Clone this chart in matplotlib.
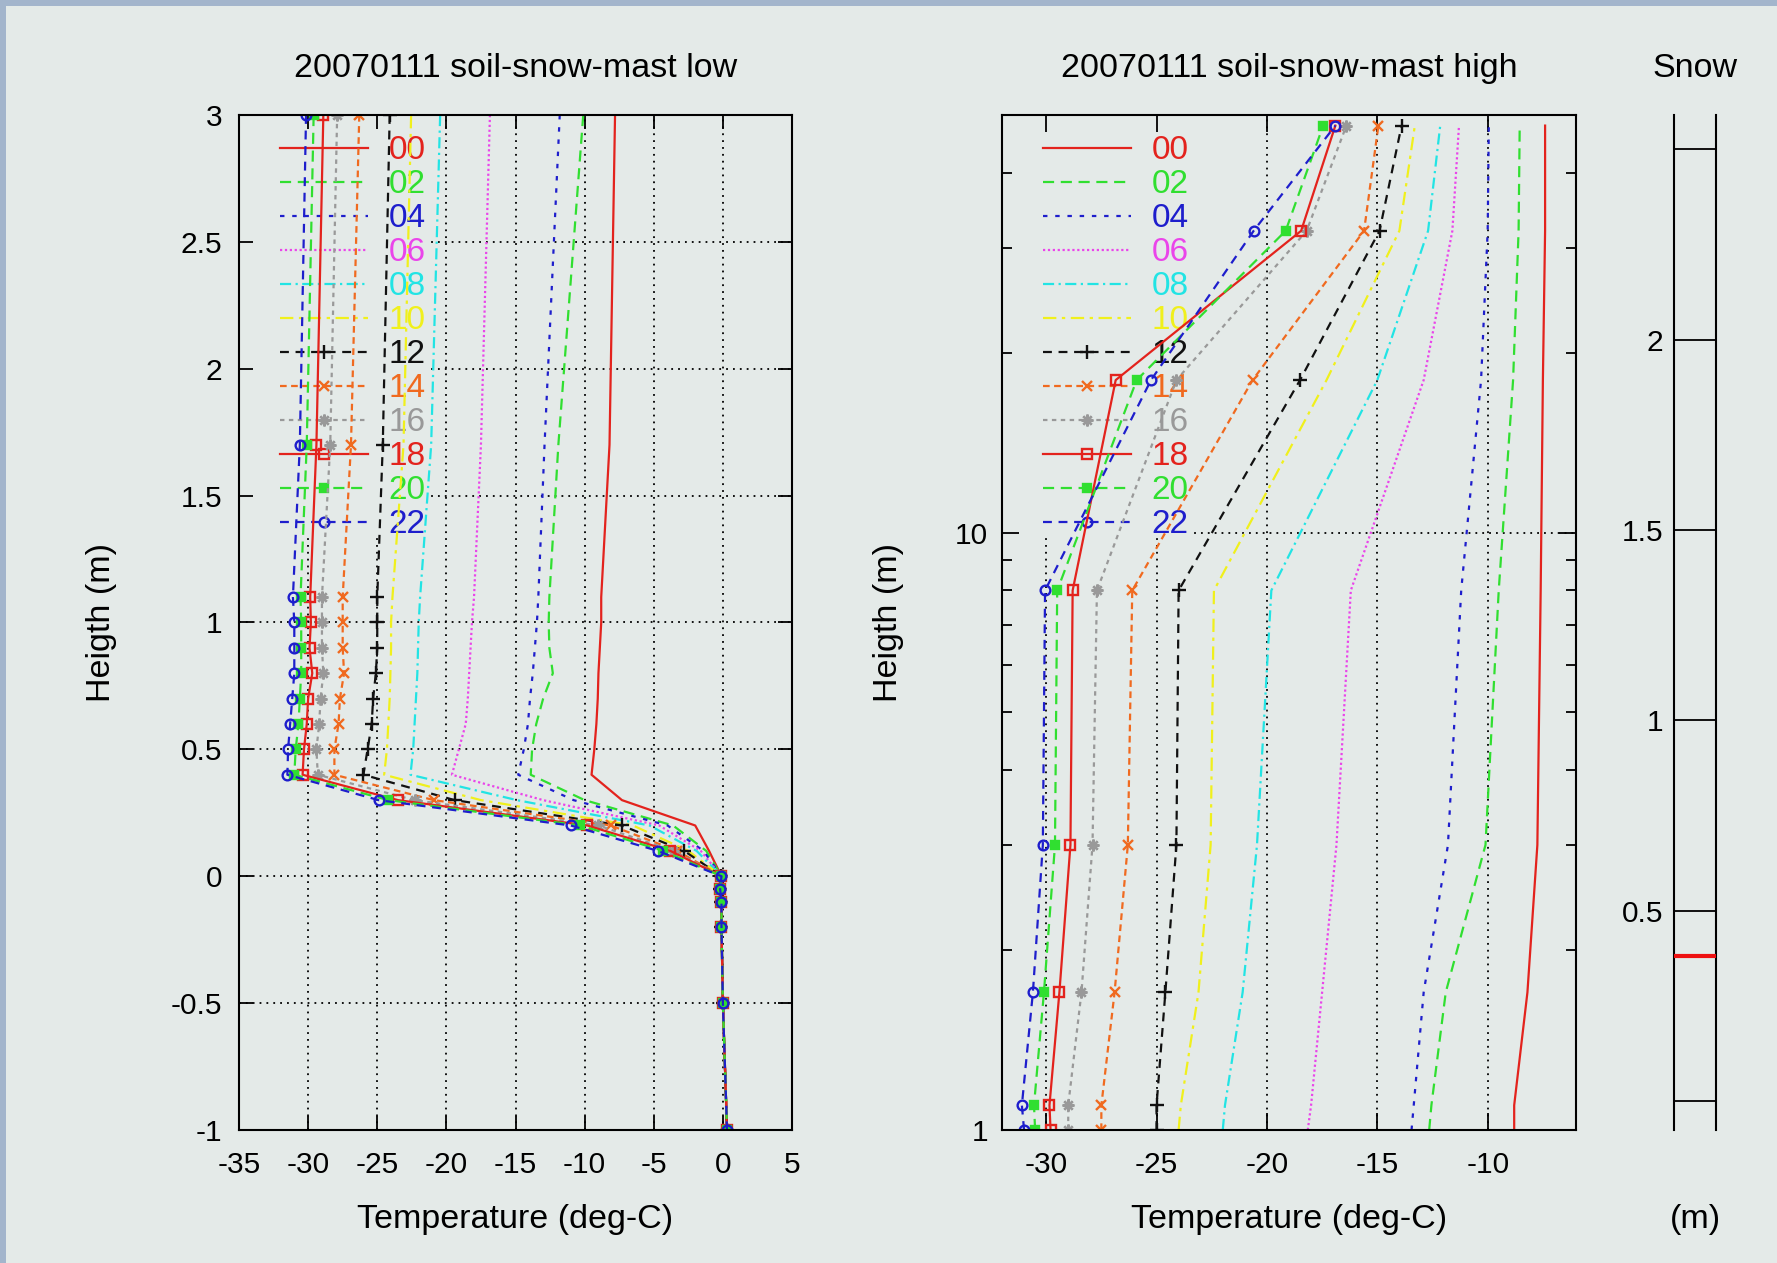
import matplotlib
matplotlib.use('Agg')
import matplotlib.pyplot as plt
from matplotlib.ticker import LogLocator, NullFormatter, FixedLocator
from matplotlib.patches import Rectangle

plt.rcParams['font.family'] = ['Liberation Sans', 'DejaVu Sans']
plt.rcParams['axes.unicode_minus'] = False

BG = '#e4eae8'
BORDER = '#a3b5cc'

hours = ['00', '02', '04', '06', '08', '10', '12', '14', '16', '18', '20', '22']

# ---- low mast + snow + soil profile (m) ----
h_air = [3.0, 1.7, 1.1, 1.0, 0.9, 0.8, 0.7, 0.6, 0.5, 0.4, 0.3, 0.2, 0.1]
h_soil = [0.0, -0.05, -0.1, -0.2, -0.5, -1.0]
t_soil = [-0.1, -0.2, -0.1, -0.1, 0.0, 0.3]

low_00 = [-7.8, -8.2, -8.8, -8.8, -8.9, -9.0, -9.05, -9.15, -9.3, -9.5, -7.3, -2.0, -1.0]
low_02 = [-10.1, -11.9, -12.55, -12.6, -12.55, -12.3, -13.0, -13.5, -13.8, -13.9, -10.0, -3.6, -1.2]
low_04 = [-11.8, -12.9, -13.35, -13.45, -13.6, -13.75, -13.95, -14.1, -14.4, -14.8, -10.8, -4.0, -1.4]
low_06 = [-16.85, -17.5, -18.0, -18.15, -18.25, -18.35, -18.45, -18.6, -19.1, -19.6, -13.0, -4.6, -1.6]
low_08 = [-20.45, -21.1, -21.9, -22.0, -22.05, -22.1, -22.2, -22.3, -22.4, -22.6, -14.9, -5.3, -1.9]
low_10 = [-22.55, -23.1, -23.9, -24.0, -24.0, -24.05, -24.1, -24.2, -24.3, -24.5, -17.5, -6.5, -2.5]
low_12 = [-24.1, -24.6, -25.0, -25.0, -25.0, -25.1, -25.3, -25.4, -25.7, -26.0, -19.4, -7.3, -2.8]
low_14 = [-26.3, -26.9, -27.5, -27.5, -27.5, -27.4, -27.7, -27.8, -28.1, -28.1, -20.9, -8.1, -3.3]
low_16 = [-27.9, -28.4, -29.0, -29.0, -29.0, -28.9, -29.1, -29.2, -29.4, -29.3, -22.3, -9.0, -3.6]
low_18 = [-28.9, -29.4, -29.85, -29.8, -29.9, -29.7, -30.0, -30.1, -30.3, -30.4, -23.5, -9.8, -3.8]
low_20 = [-29.6, -30.1, -30.55, -30.5, -30.5, -30.5, -30.6, -30.7, -30.9, -31.0, -24.2, -10.3, -4.3]
low_22 = [-30.15, -30.6, -31.1, -31.0, -31.0, -31.0, -31.15, -31.3, -31.45, -31.5, -24.9, -11.0, -4.7]

# ---- high mast profile (m, log scale) ----
h_high = [1.0, 1.1, 1.7, 3.0, 8.0, 18.0, 32.0, 48.0]
high_00 = [-8.8, -8.8, -8.2, -7.75, -7.6, -7.5, -7.4, -7.4]
high_02 = [-12.65, -12.55, -11.9, -10.1, -9.5, -8.85, -8.6, -8.55]
high_04 = [-13.45, -13.35, -12.9, -11.8, -11.2, -10.3, -10.0, -9.95]
high_06 = [-18.15, -18.0, -17.5, -16.85, -16.2, -12.9, -11.6, -11.3]
high_08 = [-22.0, -21.9, -21.1, -20.45, -19.8, -15.0, -12.7, -12.15]
high_10 = [-24.0, -23.9, -23.1, -22.55, -22.4, -17.3, -14.0, -13.3]
high_12 = [-25.0, -25.0, -24.6, -24.1, -24.0, -18.5, -14.9, -13.9]
high_14 = [-27.5, -27.5, -26.9, -26.3, -26.1, -20.65, -15.6, -14.95]
high_16 = [-29.0, -29.0, -28.4, -27.9, -27.7, -24.1, -18.2, -16.4]
high_18 = [-29.8, -29.85, -29.4, -28.9, -28.8, -26.85, -18.45, -16.9]
high_20 = [-30.5, -30.55, -30.1, -29.6, -29.5, -25.9, -19.15, -17.45]
high_22 = [-31.0, -31.1, -30.6, -30.15, -30.05, -25.25, -20.6, -16.9]

snow_depth = 0.38

low_series = [low_00, low_02, low_04, low_06, low_08, low_10,
              low_12, low_14, low_16, low_18, low_20, low_22]
high_series = [high_00, high_02, high_04, high_06, high_08, high_10,
               high_12, high_14, high_16, high_18, high_20, high_22]

xt_low = [-35, -30, -25, -20, -15, -10, -5, 0, 5]
yt_low = [-1, -0.5, 0, 0.5, 1, 1.5, 2, 2.5, 3]
xt_high = [-30, -25, -20, -15, -10]
yt_high = [1, 10]
snow_ticks = [0, 0.5, 1.0, 1.5, 2.0, 2.5]
snow_labels = ['', '0.5', '1', '1.5', '2', '']

# ---- styles ----
RED, GREEN, BLUE = '#e3231d', '#30df30', '#1e1ecc'
colors = [RED, GREEN, BLUE, '#ea45ea', '#22e4e4', '#f0f01c',
          '#111111', '#f06a1f', '#999999', RED, GREEN, BLUE]
styles = ['-', (0, (5, 3)), (0, (2, 3.5)), (0, (1, 1.2)), (0, (5, 2, 1, 2)),
          (0, (6, 2.5, 1.5, 2.5)), (0, (4, 3)), (0, (3, 2)), (0, (2, 2)),
          '-', (0, (5, 3)), (0, (4, 3))]
markers = ['', '', '', '', '', '', '+', 'x', (8, 2, 0), 's', 's', 'o']
msizes = [0, 0, 0, 0, 0, 0, 10, 7.5, 8.5, 7.5, 5.5, 7]
mfcs = ['none'] * 9 + ['none', GREEN, 'none']
LW = 1.6

FIG_W, FIG_H = 1777, 1263
fig = plt.figure(figsize=(FIG_W / 100, FIG_H / 100), dpi=100, facecolor=BG)

def box(x0, x1, y0, y1):
    return [x0 / FIG_W, 1 - y1 / FIG_H, (x1 - x0) / FIG_W, (y1 - y0) / FIG_H]

ax1 = fig.add_axes(box(239, 792, 115, 1130))
ax2 = fig.add_axes(box(1002, 1576, 115, 1130))
ax3 = fig.add_axes(box(1674, 1716, 115, 1130))

grid_kw = dict(color='k', ls=(0, (1, 2.8)), lw=1.3, zorder=0.8)
TFS = 24.5   # titles / axis labels
KFS = 21.5   # tick labels
LFS = 24     # legend

for ax in (ax1, ax2, ax3):
    ax.set_facecolor(BG)
    for s in ax.spines.values():
        s.set_linewidth(1.5)

def plot_series(ax, xs_list, ys):
    out = []
    for i, h in enumerate(hours):
        ln, = ax.plot(xs_list[i], ys, color=colors[i], ls=styles[i], lw=LW,
                      marker=markers[i], ms=msizes[i],
                      mfc=mfcs[i] if markers[i] not in ('+', 'x') else colors[i],
                      mew=1.7, zorder=2)
        out.append(ln)
    return out

# ---- left panel ----
lines1 = plot_series(ax1, [s + t_soil for s in low_series], h_air + h_soil)
ax1.set_xlim(-35, 5)
ax1.set_ylim(-1, 3)
ax1.set_xticks(xt_low)
ax1.set_yticks(yt_low)
ax1.set_yticklabels(['-1', '-0.5', '0', '0.5', '1', '1.5', '2', '2.5', '3'])
for v in xt_low[1:-1]:
    ax1.axvline(v, **grid_kw)
for v in yt_low[1:-1]:
    ax1.axhline(v, **grid_kw)
ax1.tick_params(direction='in', top=True, right=True, length=10, width=1.3,
                labelsize=KFS)
ax1.tick_params(axis='x', pad=15)
ax1.tick_params(axis='y', pad=12)
ax1.add_patch(Rectangle((0, 0.584), 0.342, 0.416, transform=ax1.transAxes,
                        facecolor=BG, edgecolor='none', zorder=0.9))
ax1.set_title('20070111 soil-snow-mast low', fontsize=TFS, pad=27)
ax1.set_xlabel('Temperature (deg-C)', fontsize=TFS)
ax1.set_ylabel('Heigth (m)', fontsize=TFS)
ax1.xaxis.set_label_coords(0.5, -0.073)
ax1.yaxis.set_label_coords(-0.22, 0.5)

# ---- right panel ----
lines2 = plot_series(ax2, high_series, h_high)
ax2.set_yscale('log')
ax2.set_xlim(-32, -6)
ax2.set_ylim(1, 50)
ax2.xaxis.set_major_locator(FixedLocator(xt_high))
ax2.yaxis.set_major_locator(FixedLocator(yt_high))
ax2.set_yticklabels(['1', '10'])
ax2.yaxis.set_minor_locator(LogLocator(base=10, subs=range(2, 10)))
ax2.yaxis.set_minor_formatter(NullFormatter())
for v in xt_high:
    ax2.axvline(v, **grid_kw)
ax2.axhline(yt_high[1], **grid_kw)
ax2.tick_params(which='both', direction='in', top=True, right=True, width=1.3,
                labelsize=KFS)
ax2.tick_params(which='major', length=12)
ax2.tick_params(which='minor', length=7)
ax2.tick_params(axis='x', pad=15)
ax2.tick_params(axis='y', pad=10)
ax2.add_patch(Rectangle((0, 0.584), 0.3275, 0.416, transform=ax2.transAxes,
                        facecolor=BG, edgecolor='none', zorder=0.9))
ax2.set_title('20070111 soil-snow-mast high', fontsize=TFS, pad=27)
ax2.set_xlabel('Temperature (deg-C)', fontsize=TFS)
ax2.set_ylabel('Heigth (m)', fontsize=TFS)
ax2.xaxis.set_label_coords(0.5, -0.073)
ax2.yaxis.set_label_coords(-0.17, 0.5)

# ---- legends ----
for ax, lns, x0 in ((ax1, lines1, 0.074), (ax2, lines2, 0.0714)):
    leg = ax.legend(lns, hours, loc='upper left', bbox_to_anchor=(x0, 0.980),
                    borderaxespad=0, borderpad=0, frameon=False, fontsize=LFS,
                    handlelength=2.65, handletextpad=0.6, labelspacing=0.09,
                    numpoints=1)
    leg.set_zorder(1.0)
    for t, c in zip(leg.get_texts(), colors):
        t.set_color(c)

# ---- snow panel ----
ax3.set_xlim(0, 1)
ax3.set_ylim(-0.076, 2.59)
ax3.spines['top'].set_visible(False)
ax3.spines['bottom'].set_visible(False)
ax3.set_xticks([])
ax3.set_yticks(snow_ticks)
ax3.set_yticklabels(snow_labels)
ax3.tick_params(axis='y', direction='in', length=42 * 0.72, width=1.3,
                labelsize=KFS, pad=8)
ax3.hlines(snow_depth, 0, 1, color='#ee1111', lw=3, zorder=3)
ax3.set_title('Snow', fontsize=TFS, pad=27)
ax3.set_xlabel('(m)', fontsize=TFS)
ax3.xaxis.set_label_coords(0.5, -0.073)

# ---- window border ----
fig.add_artist(Rectangle((0, 0), 6 / FIG_W, 1, transform=fig.transFigure,
                         facecolor=BORDER, edgecolor='none'))
fig.add_artist(Rectangle((0, 1 - 6 / FIG_H), 1, 6 / FIG_H, transform=fig.transFigure,
                         facecolor=BORDER, edgecolor='none'))

fig.savefig('out.png', dpi=100, facecolor=BG)
